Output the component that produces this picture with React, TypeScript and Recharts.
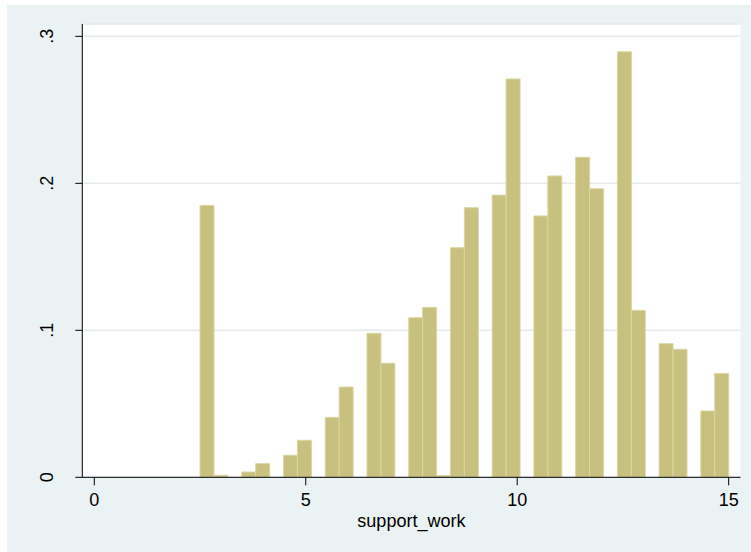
import React from 'react';
import { BarChart, Bar, XAxis, YAxis, CartesianGrid, Label } from 'recharts';

// Histogram of support_work: 38 equal-width bins from 2.5 to 15, heights are densities
const binStart = 2.5;
const binEnd = 15;
const densities = [
  0.185, 0.0014, 0, 0.0036, 0.0093, 0, 0.015, 0.0252, 0, 0.0408,
  0.0614, 0, 0.098, 0.0776, 0, 0.1086, 0.1156, 0.0012, 0.1562, 0.1834,
  0, 0.192, 0.271, 0, 0.1778, 0.205, 0, 0.2177, 0.1963, 0,
  0.2895, 0.1136, 0, 0.0909, 0.0871, 0, 0.0451, 0.0707,
];
const xTicks = [0, 5, 10, 15];
const yTicks = [0, 0.1, 0.2, 0.3];
const yTickLabels = ['0', '.1', '.2', '.3'];
const xTitle = 'support_work';

const binWidth = (binEnd - binStart) / densities.length;
const data = densities.map((density, i) => ({
  mid: binStart + (i + 0.5) * binWidth,
  density,
}));

const FONT = '"Liberation Sans", Arial, Helvetica, sans-serif';
const FONT_SIZE = 18;

const YTick = (props: any) => {
  const { x, y, payload } = props;
  const idx = yTicks.findIndex((t) => Math.abs(t - payload.value) < 1e-9);
  const text = idx >= 0 ? yTickLabels[idx] : String(payload.value);
  return (
    <text
      x={x}
      y={y}
      transform={`rotate(-90, ${x}, ${y})`}
      textAnchor="middle"
      fontSize={FONT_SIZE}
      fontFamily={FONT}
      fill="#000"
    >
      {text}
    </text>
  );
};

export default function App() {
  return (
    <div style={{ position: 'absolute', left: 0, top: 0, width: 751, height: 552, background: '#ffffff' }}>
      <div style={{ position: 'absolute', left: 7, top: 5, right: 0, bottom: 0, background: '#EAF2F3' }} />
      <div style={{ position: 'absolute', left: 0, top: 0 }}>
        <BarChart
          width={751}
          height={552}
          data={data}
          margin={{ top: 24, right: 10.5, bottom: 0, left: 0 }}
          barCategoryGap={0}
          barGap={0}
        >
          <CartesianGrid vertical={false} stroke="#E3EBEE" strokeWidth={1.5} fill="#ffffff" />
          <XAxis
            dataKey="mid"
            type="number"
            domain={[-0.284, 15.28]}
            ticks={xTicks}
            allowDataOverflow
            height={74.7}
            tickSize={8}
            tickMargin={8}
            stroke="#000"
            tick={{ fontSize: FONT_SIZE, fontFamily: FONT, fill: '#000' }}
          >
            <Label
              value={xTitle}
              position="insideBottom"
              offset={25.5}
              style={{ fontSize: FONT_SIZE, fontFamily: FONT, fill: '#000' }}
            />
          </XAxis>
          <YAxis
            type="number"
            domain={[0, 0.3084]}
            ticks={yTicks}
            allowDataOverflow
            width={82.3}
            tickSize={7}
            tickMargin={22.3}
            stroke="#000"
            tick={<YTick />}
          />
          <Bar
            dataKey="density"
            fill="#C8C07E"
            stroke="#DCD6A4"
            strokeWidth={1}
            isAnimationActive={false}
          />
        </BarChart>
      </div>
    </div>
  );
}
